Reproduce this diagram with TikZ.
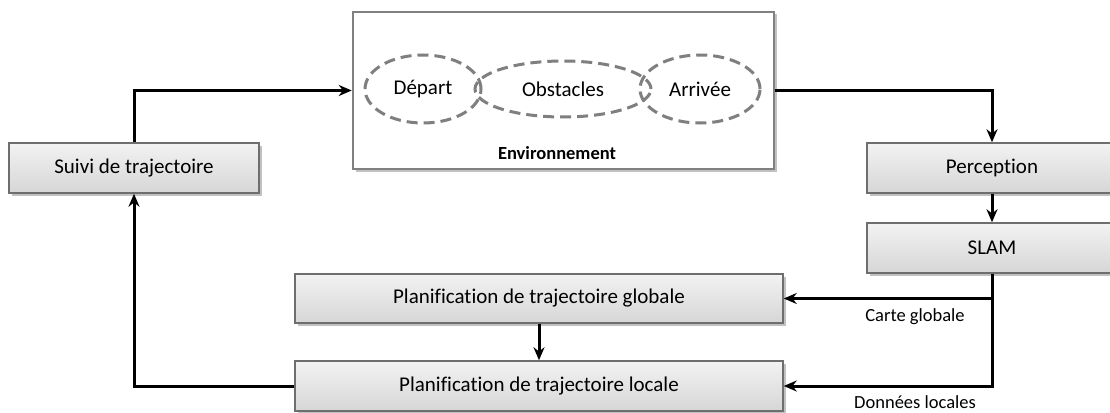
\documentclass[tikz,border=0pt]{standalone}
\usepackage{fontspec}
\setmainfont{Carlito}[Ligatures=NoCommon]
\usetikzlibrary{arrows.meta,shadows,shapes.geometric}

\definecolor{boxline}{HTML}{6E6E6E}
\definecolor{envline}{HTML}{808080}
\definecolor{dashline}{HTML}{7F7F7F}

\tikzset{
  block/.style={draw=boxline, line width=1.5pt, rectangle, inner sep=0pt,
    top color=white!95!black, bottom color=white!84!black,
    drop shadow={shadow xshift=2.5pt, shadow yshift=-2.5pt, opacity=0.35, fill=black!70},
    font=\fontsize{21}{24}\selectfont},
  envbox/.style={draw=envline, line width=2.6pt, fill=white, rectangle, inner sep=0pt,
    drop shadow={shadow xshift=2.5pt, shadow yshift=-2.5pt, opacity=0.35, fill=black!70}},
  zone/.style={ellipse, draw=dashline, line width=3pt, dash pattern=on 11pt off 6pt,
    inner sep=0pt, font=\fontsize{21}{24}\selectfont},
  flow/.style={draw=black, line width=3pt, -{Stealth[length=13pt,width=11pt]}},
  tag/.style={font=\fontsize{18.5}{22}\selectfont, inner sep=0pt}
}

\begin{document}
\begin{tikzpicture}[x=1pt,y=-1pt]
  \useasboundingbox (0,0) rectangle (1110,412);

  % environment with its three zones
  \node[envbox, minimum width=421pt, minimum height=157pt] (env) at (563.5,90.5) {};
  \node[zone, minimum width=176pt, minimum height=56pt] (obs) at (563,89) {Obstacles};
  \node[zone, minimum width=116pt, minimum height=68pt] (dep) at (423,89) {Départ};
  \node[zone, minimum width=120pt, minimum height=68pt] (arr) at (700,89) {Arrivée};
  \node[font=\fontsize{18.5}{22}\selectfont\bfseries, inner sep=0pt] (envlbl) at (557,153) {Environnement};

  % processing blocks
  \node[block, minimum width=250pt, minimum height=50pt] (suivi) at (134,168) {Suivi de trajectoire};
  \node[block, minimum width=250pt, minimum height=50pt] (perc) at (992,168) {Perception};
  \node[block, minimum width=250pt, minimum height=50pt] (slam) at (992,248) {SLAM};
  \node[block, minimum width=488pt, minimum height=49pt] (glob) at (539,298.5) {Planification de trajectoire globale};
  \node[block, minimum width=488pt, minimum height=50pt] (loc) at (539,386) {Planification de trajectoire locale};

  % connectors
  \draw[flow] (suivi.north) |- (env.west);
  \draw[flow] (env.east) -| (perc.north);
  \draw[flow] (perc.south) -- (slam.north);
  \draw[flow] (slam.south) |- (glob.east);
  \draw[flow] (slam.south) |- (loc.east);
  \draw[flow] (glob.south) -- (loc.north);
  \draw[flow] (loc.west) -| (suivi.south);

  % data labels
  \node[tag] (carte) at (915,317) {Carte globale};
  \node[tag] (donnees) at (915,402) {Données locales};
\end{tikzpicture}
\end{document}
